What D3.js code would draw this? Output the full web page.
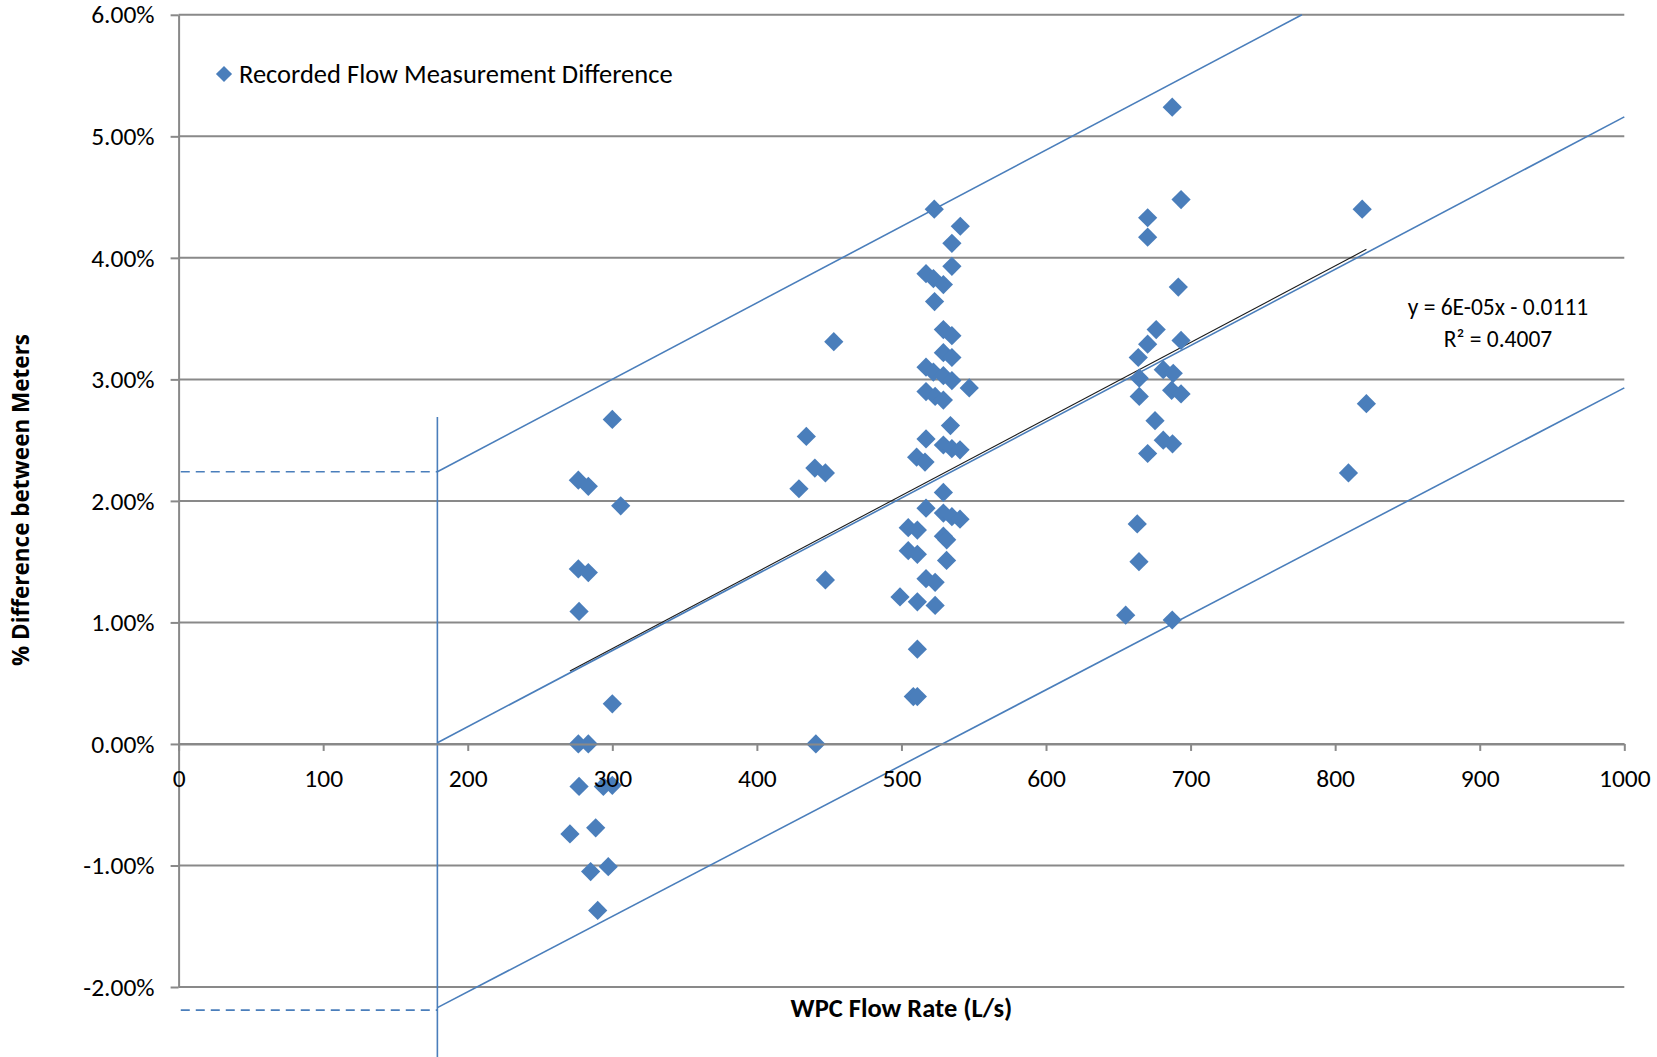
<!DOCTYPE html>
<html lang="en">
<head>
  <meta charset="UTF-8">
  <title>Flow measurement difference</title>
  <script src="https://cdn.jsdelivr.net/npm/d3@7"></script>
  <style>
    body { margin: 0; background: #fff; }
    svg { display: block; }
    .tick-label { font-family: Carlito, Calibri, Lato, sans-serif; font-size: 25.5px; fill: #000; }
  </style>
</head>
<body>
  <script>
    // WPC flow rate (L/s) and % difference between meters
    const flowRate = [
      300, 276.5, 283.4, 305.8, 276.5, 283.4, 277, 300, 276.5, 283.4,
      277, 293.8, 300, 270.7, 288.5, 285, 297.2, 289.9,
      434.2, 429.1, 440.1, 447.4, 453.2, 447.4, 440.8,
      522.7, 540.7, 534.9, 534.9, 517, 522.1, 529, 522.9, 529, 534.9,
      529, 534.9, 517, 522.1, 529, 534.9, 546.9, 517, 523.3, 529,
      533.9, 517, 529, 534.9, 540.5, 510.5, 516.3, 529, 517, 529,
      534.9, 540.5, 504.7, 511, 529, 531.3, 504.7, 511, 531.2, 517,
      523.3, 499, 511, 523.3, 511, 508.2, 511,
      687.3, 693.4, 670.3, 670.3, 691.5, 676.2, 670.3, 693.4, 663.8, 681.1,
      688, 664.5, 664.5, 686.9, 693.4, 675.4, 681.1, 687.5, 670.3, 663.1,
      664.3, 655.1, 687.3,
      818.7, 821.6, 809.2
    ];
    const pctDiff = [
      2.67, 2.17, 2.12, 1.96, 1.44, 1.41, 1.09, 0.33, 0.0, 0.0,
      -0.35, -0.35, -0.34, -0.74, -0.69, -1.05, -1.01, -1.37,
      2.53, 2.10, 2.27, 2.23, 3.31, 1.35, 0.0,
      4.40, 4.26, 4.12, 3.93, 3.87, 3.83, 3.78, 3.64, 3.41, 3.36,
      3.22, 3.18, 3.10, 3.06, 3.03, 2.99, 2.93, 2.90, 2.86, 2.83,
      2.62, 2.51, 2.46, 2.43, 2.42, 2.36, 2.32, 2.07, 1.94, 1.90,
      1.87, 1.85, 1.78, 1.76, 1.71, 1.68, 1.59, 1.56, 1.51, 1.36,
      1.33, 1.21, 1.17, 1.14, 0.78, 0.39, 0.39,
      5.24, 4.48, 4.33, 4.17, 3.76, 3.41, 3.29, 3.32, 3.18, 3.08,
      3.05, 3.01, 2.86, 2.91, 2.88, 2.66, 2.50, 2.47, 2.39, 1.81,
      1.50, 1.06, 1.02,
      4.40, 2.80, 2.23
    ];

    // tick values
    const xTicks = [0, 100, 200, 300, 400, 500, 600, 700, 800, 900, 1000];
    const yTicks = [-2, -1, 0, 1, 2, 3, 4, 5, 6];

    // linear trendline (from min to max flow) and its label
    const trendX = [270.7, 821.6];
    const trendY = [0.60, 4.07];
    const trendLabel = ["y = 6E-05x - 0.0111", "R\u00B2 = 0.4007"];

    // parallel band lines starting at the 179 L/s marker
    const markerX = 179;
    const markerSpanY = [2.69, -2.58];
    const upperBandX = [179, 777];
    const upperBandY = [2.24, 6.0];
    const centerBandX = [179, 1000];
    const centerBandY = [0.01, 5.16];
    const lowerBandX = [179, 1000];
    const lowerBandY = [-2.17, 2.93];
    const dashedX = [1.5, 179];
    const dashedY = [2.24, -2.19];

    const W = 1657, H = 1057;
    const blue = "#4a7ebb";
    const grid = "#898989";

    const svg = d3.select("body").append("svg")
      .attr("width", W)
      .attr("height", H);

    const x = d3.scaleLinear().domain([0, 1000]).range([178.6, 1624.3]);
    const y = d3.scaleLinear().domain([-2, 6]).range([987, 14.8]);

    // horizontal gridlines
    svg.append("g").selectAll("line")
      .data(yTicks)
      .enter()
      .append("line")
      .attr("x1", x(0))
      .attr("x2", x(1000))
      .attr("y1", d => y(d))
      .attr("y2", d => y(d))
      .attr("stroke", grid)
      .attr("stroke-width", 2);

    // y axis
    const axisY = d3.axisLeft(y)
      .tickValues(yTicks)
      .tickFormat(d => d.toFixed(2) + "%")
      .tickSizeInner(8)
      .tickSizeOuter(0)
      .tickPadding(16);

    const gy = svg.append("g")
      .attr("transform", `translate(${x(0)},0)`)
      .call(axisY);
    gy.attr("font-family", null).attr("font-size", null);
    gy.select(".domain").attr("stroke", grid).attr("stroke-width", 2);
    gy.selectAll(".tick line").attr("stroke", grid).attr("stroke-width", 2);
    gy.selectAll(".tick text").attr("class", "tick-label");

    // band lines
    const line = d3.line().x(d => x(d[0])).y(d => y(d[1]));
    const bands = [
      d3.zip(upperBandX, upperBandY),
      d3.zip(centerBandX, centerBandY),
      d3.zip(lowerBandX, lowerBandY),
      [[markerX, markerSpanY[0]], [markerX, markerSpanY[1]]]
    ];
    svg.append("g").selectAll("path")
      .data(bands)
      .enter()
      .append("path")
      .attr("d", line)
      .attr("fill", "none")
      .attr("stroke", blue)
      .attr("stroke-width", 1.6);

    svg.append("g").selectAll("path")
      .data(dashedY)
      .enter()
      .append("path")
      .attr("d", d => line([[dashedX[0], d], [dashedX[1], d]]))
      .attr("fill", "none")
      .attr("stroke", blue)
      .attr("stroke-width", 1.6)
      .attr("stroke-dasharray", "9,6");

    // trendline
    svg.append("path")
      .attr("d", line(d3.zip(trendX, trendY)))
      .attr("fill", "none")
      .attr("stroke", "#1a1a1a")
      .attr("stroke-width", 1.1);

    // scatter points (diamonds)
    const diamond = d3.symbol().type(d3.symbolSquare).size(185);
    svg.append("g").selectAll("path")
      .data(d3.zip(flowRate, pctDiff))
      .enter()
      .append("path")
      .attr("d", diamond)
      .attr("transform", d => `translate(${x(d[0])},${y(d[1])}) rotate(45)`)
      .attr("fill", blue);

    // x axis at 0%, labels drawn above the points
    const axisX = d3.axisBottom(x)
      .tickValues(xTicks)
      .tickFormat(d3.format("d"))
      .tickSizeInner(7)
      .tickSizeOuter(0)
      .tickPadding(18);

    const gx = svg.append("g")
      .attr("transform", `translate(0,${y(0)})`)
      .call(axisX);
    gx.attr("font-family", null).attr("font-size", null);
    gx.select(".domain").attr("stroke", grid).attr("stroke-width", 2);
    gx.selectAll(".tick line").attr("stroke", grid).attr("stroke-width", 2);
    gx.selectAll(".tick text").attr("class", "tick-label");

    // legend
    svg.append("path")
      .attr("d", d3.symbol().type(d3.symbolSquare).size(130))
      .attr("transform", "translate(224,74) rotate(45)")
      .attr("fill", blue);
    svg.append("text")
      .attr("class", "tick-label")
      .attr("x", 239)
      .attr("y", 74)
      .attr("dy", "0.35em")
      .style("font-size", "26.5px")
      .text("Recorded Flow Measurement Difference");

    // trendline equation
    svg.append("g").selectAll("text")
      .data(trendLabel)
      .enter()
      .append("text")
      .attr("class", "tick-label")
      .attr("x", 1498)
      .attr("y", (d, i) => 307 + i * 32)
      .attr("dy", "0.35em")
      .attr("text-anchor", "middle")
      .style("font-size", "23.5px")
      .text(d => d);

    // axis titles
    svg.append("text")
      .attr("x", x(500))
      .attr("y", 1008)
      .attr("dy", "0.35em")
      .attr("text-anchor", "middle")
      .style("font-family", "Carlito, Calibri, Lato, sans-serif")
      .style("font-weight", "bold")
      .style("font-size", "26.5px")
      .text("WPC Flow Rate (L/s)");

    svg.append("text")
      .attr("transform", "translate(21,500) rotate(-90)")
      .attr("dy", "0.35em")
      .attr("text-anchor", "middle")
      .style("font-family", "'Open Sans', sans-serif")
      .style("font-weight", "bold")
      .style("font-size", "22.5px")
      .text("% Difference between Meters");
  </script>
</body>
</html>
